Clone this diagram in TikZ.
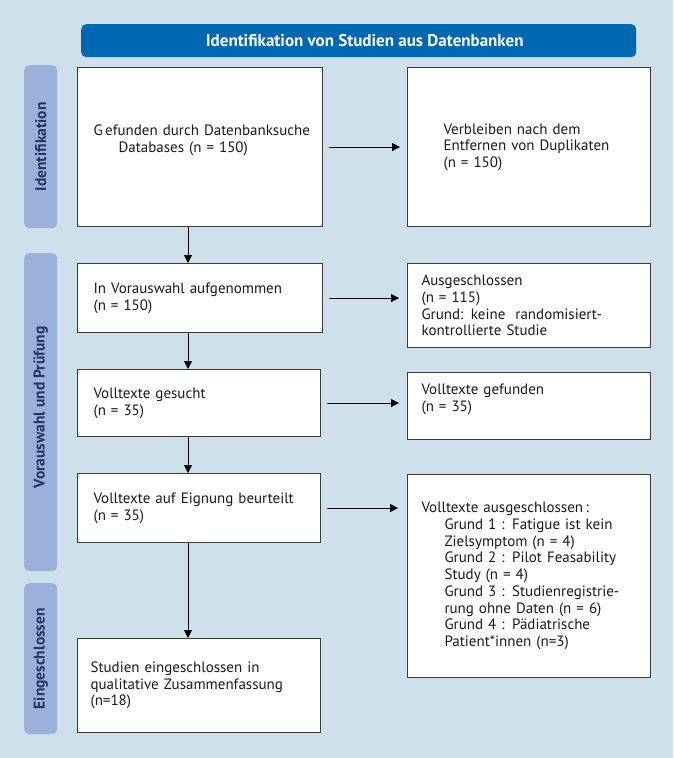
\documentclass[tikz,border=0pt]{standalone}
\usepackage{fontspec}
\setmainfont{PT Sans}
\usetikzlibrary{arrows.meta}
\definecolor{bgblue}{HTML}{CEE0EC}
\definecolor{sidebar}{HTML}{9BB1DA}
\definecolor{headblue}{HTML}{0067B1}
\definecolor{sidetext}{HTML}{1E3560}
\definecolor{boxline}{HTML}{3A3A3A}
\definecolor{txt}{HTML}{1A1A1A}
\newcommand{\boxfont}{\fontsize{15pt}{16.7pt}\selectfont}
\newcommand{\ind}{\hspace*{23pt}}
\tikzset{
  box/.style={draw=boxline, line width=1.1pt, fill=white, align=left, font=\boxfont,
    text=txt, inner ysep=0pt, anchor=north west},
  sidebox/.style={fill=sidebar, rounded corners=5pt, minimum width=33pt, anchor=north west, inner sep=0pt},
  sidelabel/.style={rotate=90, font=\bfseries\fontsize{15.5pt}{17pt}\selectfont, text=sidetext},
  arr/.style={line width=0.9pt, draw=black, -{Triangle[length=8pt,width=8pt]}},
}
\begin{document}
\begin{tikzpicture}[x=1pt,y=-1pt]
\fill[bgblue] (0,0) rectangle (673,758);
\useasboundingbox (0,0) rectangle (673,758);

% header
\node[fill=headblue, rounded corners=5pt, minimum width=555pt, minimum height=33pt, anchor=north west,
  text=white, font=\bfseries\fontsize{17pt}{19pt}\selectfont, inner sep=0pt] (head) at (81,24)
  {\hspace*{12pt}Identifikation von Studien aus Datenbanken};

% side bars
\node[sidebox, minimum height=163pt] (s1) at (24,65) {};
\node[sidebox, minimum height=318pt] (s2) at (24,253) {};
\node[sidebox, minimum height=151pt] (s3) at (24,583) {};
\node[sidelabel] (l1) at (s1.center) {Identifikation};
\node[sidelabel] (l2) at ([yshift=5pt]s2.center) {Vorauswahl und Prüfung};
\node[sidelabel] (l3) at (s3.center) {Eingeschlossen};

% boxes
\node[box, inner xsep=16pt, text width=213pt, minimum height=159pt] (b1) at (77,67)
  {\mbox{G\,efunden durch Datenbanksuche}\\\hspace*{25pt}Databases (n = 150)\\~};
\node[box, inner xsep=36pt, text width=171pt, minimum height=159pt] (b2) at (407,67)
  {Verbleiben nach dem\\Entfernen von Duplikaten\\(n = 150)};
\node[box, inner xsep=16pt, text width=213pt, minimum height=69pt] (b3) at (77,263)
  {In Vorauswahl aufgenommen\\(n = 150)};
\node[box, inner xsep=14pt, text width=215pt, minimum height=84pt] (b4) at (407,263)
  {Ausgeschlossen\\(n = 115)\\Grund: keine\ \ randomisiert-\\kontrollierte Studie};
\node[box, inner xsep=16pt, text width=211pt, minimum height=67pt] (b5) at (77,369)
  {Volltexte gesucht\\(n = 35)};
\node[box, inner xsep=14pt, text width=215pt, minimum height=67pt] (b6) at (407,372)
  {Volltexte gefunden\\(n = 35)\\~};
\node[box, inner xsep=16pt, text width=211pt, minimum height=69pt] (b7) at (77,473)
  {Volltexte auf Eignung beurteilt\\(n = 35)};
\node[box, inner xsep=14pt, text width=215pt, minimum height=203pt] (b8) at (407,474)
  {Volltexte ausgeschlossen\,:\\
   \ind Grund 1 : Fatigue ist kein\\
   \ind Zielsymptom (n = 4)\\
   \ind Grund 2 : Pilot Feasability\\
   \ind Study (n = 4)\\
   \ind Grund 3 : Studienregistrie-\\
   \ind rung ohne Daten (n = 6)\\
   \ind Grund 4 : Pädiatrische\\
   \ind Patient*innen (n=3)};
\node[box, inner xsep=13pt, text width=217pt, minimum height=94pt] (b9) at (77,638)
  {Studien eingeschlossen in\\qualitative Zusammenfassung\\(n=18)};

% connectors
\coordinate (ax) at (188,0);
\draw[arr, shorten <=6pt, shorten >=7pt] (b1.east) -- (b2.west);
\draw[arr, shorten <=6pt, shorten >=8pt] (b3.east) -- (b3.east -| b4.west);
\draw[arr, shorten <=6pt, shorten >=8pt] (b5.east) -- (b5.east -| b6.west);
\draw[arr, shorten <=6pt, shorten >=9pt] (b7.east) -- (b7.east -| b8.west);
\draw[arr] (b1.south -| ax) -- (b3.north -| ax);
\draw[arr] (b3.south -| ax) -- (b5.north -| ax);
\draw[arr] (b5.south -| ax) -- (b7.north -| ax);
\draw[arr] (b7.south -| ax) -- (b9.north -| ax);
\end{tikzpicture}
\end{document}
